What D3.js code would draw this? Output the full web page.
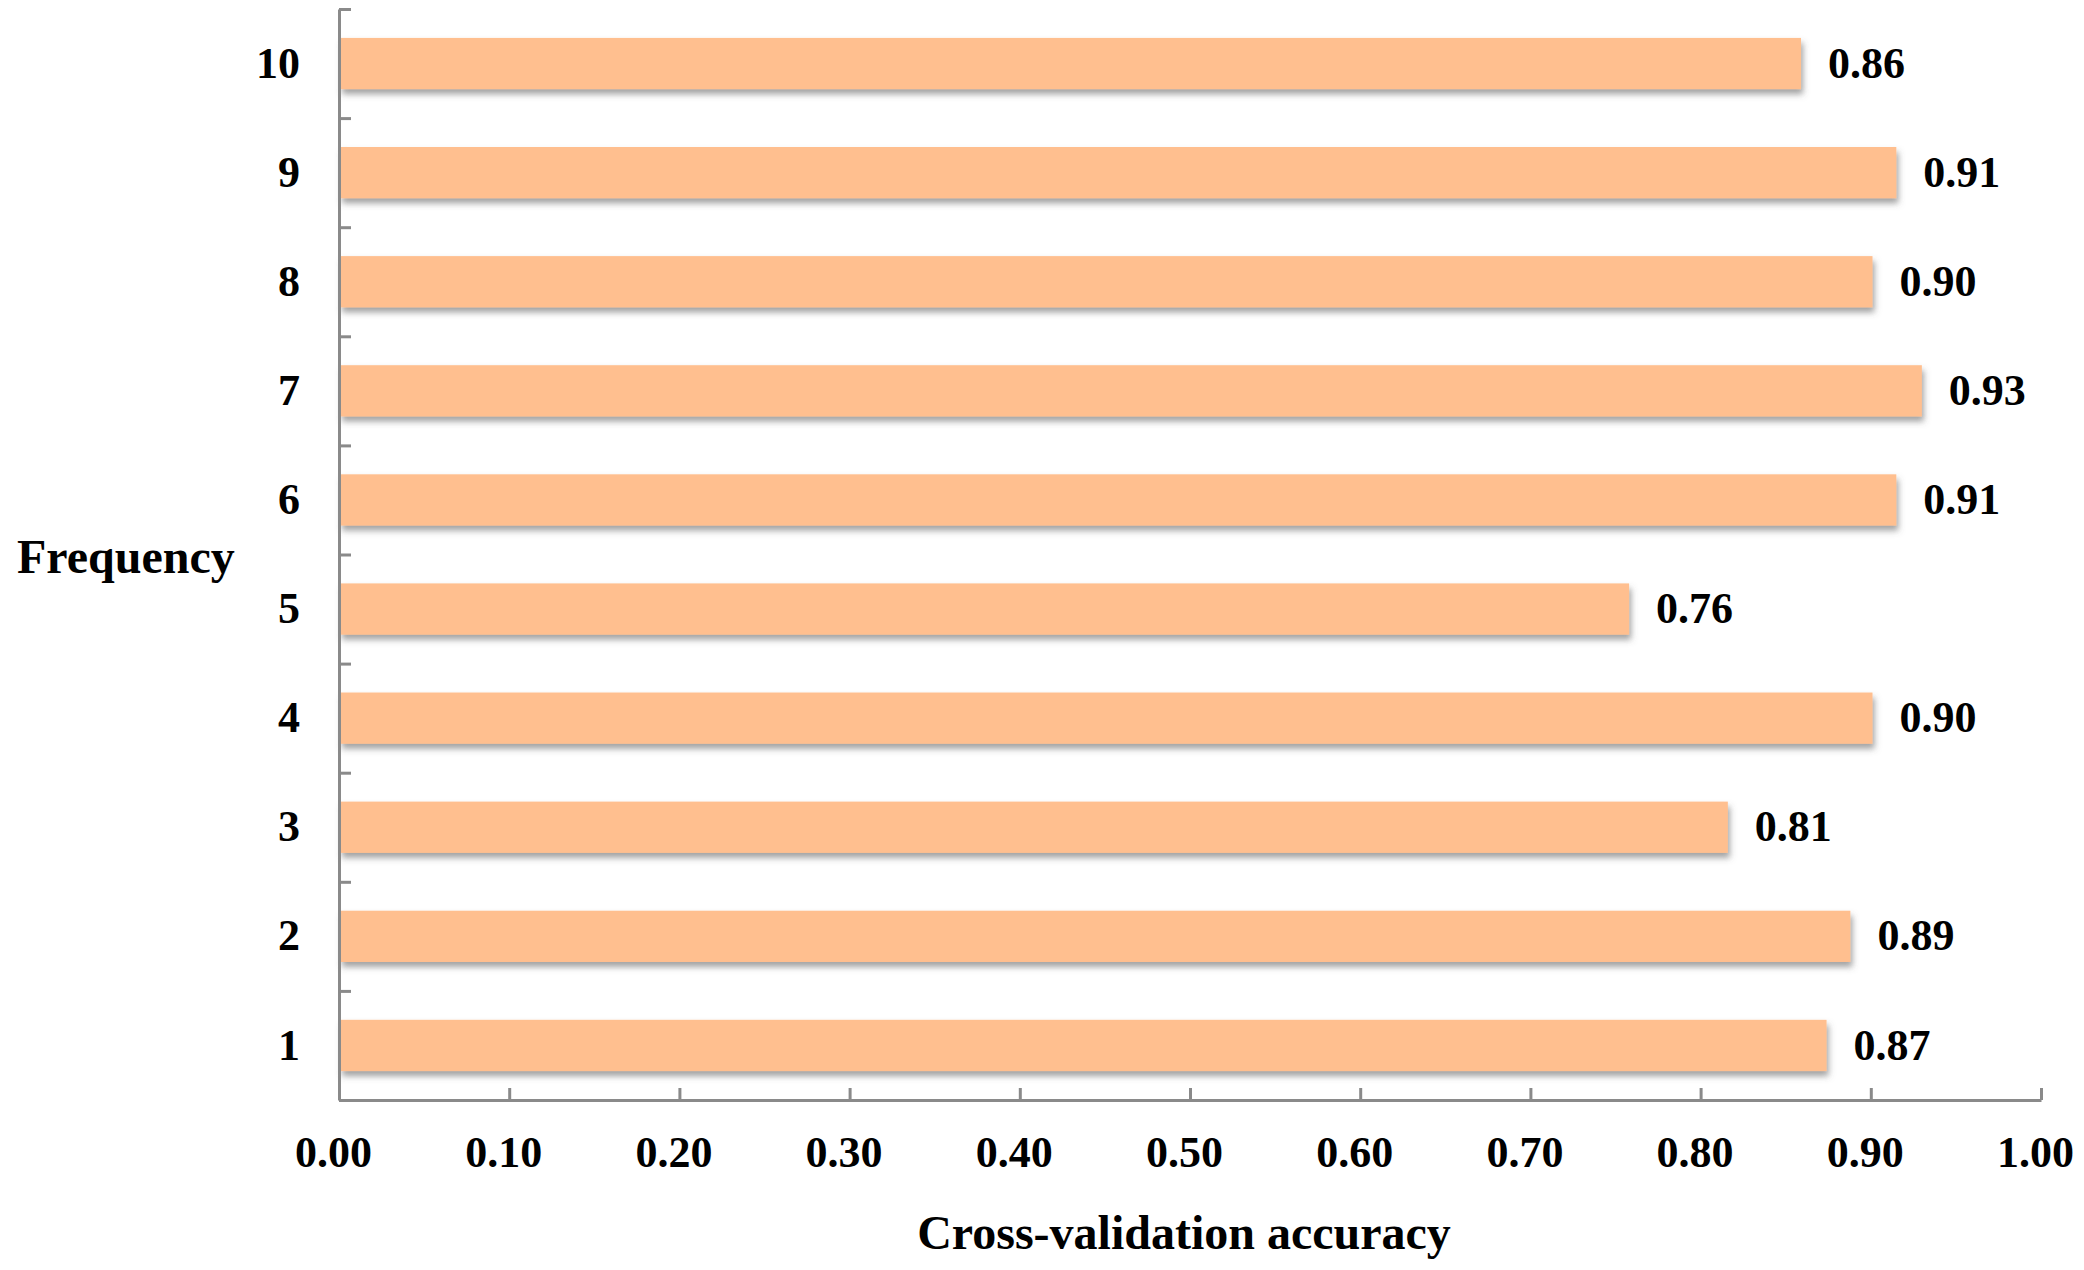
<!DOCTYPE html>
<html>
<head>
<meta charset="utf-8">
<script src="https://cdn.jsdelivr.net/npm/d3@7"></script>
<style>
  html, body { margin: 0; padding: 0; background: #fff; }
  svg { display: block; }
  text { font-family: "Liberation Serif", "Times New Roman", serif; font-weight: bold; fill: #000; }
</style>
</head>
<body>
<svg id="chart" width="2084" height="1270"></svg>
<script>
const categories = ["1", "2", "3", "4", "5", "6", "7", "8", "9", "10"];
const values = [0.874, 0.888, 0.816, 0.901, 0.758, 0.915, 0.930, 0.901, 0.915, 0.859];
const valueLabels = ["0.87", "0.89", "0.81", "0.90", "0.76", "0.91", "0.93", "0.90", "0.91", "0.86"];
const xTicks = [0, 0.1, 0.2, 0.3, 0.4, 0.5, 0.6, 0.7, 0.8, 0.9, 1.0];

(function () {
const svg = d3.select("#chart");
const mLeft = 339, mRight = 2041, mTop = 9, mBottom = 1100;
const axisColor = "#8a8a8a";

const defs = svg.append("defs");
const f = defs.append("filter").attr("id", "shadow")
  .attr("x", "-5%").attr("y", "-30%").attr("width", "110%").attr("height", "170%");
f.append("feDropShadow").attr("dx", 2).attr("dy", 5).attr("stdDeviation", 3)
  .attr("flood-color", "#555").attr("flood-opacity", 0.55);

const x = d3.scaleLinear().domain([0, 1]).range([mLeft, mRight]);
const y = d3.scaleBand().domain(categories.slice().reverse()).range([mTop, mBottom])
  .paddingInner(0.53).paddingOuter(0.265);

const data = categories.map((c, i) => ({ c, v: values[i], label: valueLabels[i] }));

// bars
svg.append("g").selectAll("rect").data(data).join("rect")
  .attr("x", x(0) + 1)
  .attr("y", d => y(d.c))
  .attr("width", d => x(d.v) - x(0) - 1)
  .attr("height", y.bandwidth())
  .attr("fill", "#FFBF8F")
  .attr("filter", "url(#shadow)");

// value labels
svg.append("g").selectAll("text").data(data).join("text")
  .attr("x", d => x(d.v) + 27)
  .attr("y", d => y(d.c) + y.bandwidth() / 2)
  .attr("dy", "0.32em")
  .attr("font-size", 44)
  .text(d => d.label);

// y axis with boundary ticks
const yLin = d3.scaleLinear().domain([0, categories.length]).range([mBottom, mTop]);
const yAx = svg.append("g").attr("transform", `translate(${mLeft},0)`)
  .call(d3.axisRight(yLin).tickValues(d3.range(0, categories.length + 1)).tickSize(12).tickSizeOuter(0).tickFormat(""));
yAx.select(".domain").attr("stroke", axisColor).attr("stroke-width", 3);
yAx.selectAll(".tick line").attr("stroke", axisColor).attr("stroke-width", 3);

// y category labels
svg.append("g").selectAll("text").data(categories).join("text")
  .attr("x", 300)
  .attr("y", d => y(d) + y.bandwidth() / 2)
  .attr("dy", "0.32em")
  .attr("text-anchor", "end")
  .attr("font-size", 44)
  .text(d => d);

// x axis
const xAx = svg.append("g").attr("transform", `translate(0,${mBottom})`)
  .call(d3.axisBottom(x).tickValues(xTicks).tickSize(-12).tickSizeOuter(0).tickFormat(d3.format(".2f")));
xAx.select(".domain").attr("stroke", axisColor).attr("stroke-width", 3);
xAx.selectAll(".tick line").attr("stroke", axisColor).attr("stroke-width", 3);
xAx.selectAll(".tick text")
  .attr("y", 67).attr("dy", 0).attr("dx", -6)
  .attr("font-size", 44)
  .style("font-family", "'Liberation Serif', serif").style("font-weight", "bold").attr("fill", "#000");

// axis titles
svg.append("text").attr("x", 1184).attr("y", 1249).attr("text-anchor", "middle")
  .attr("font-size", 48).text("Cross-validation accuracy");
svg.append("text").attr("x", 17).attr("y", 573).attr("text-anchor", "start")
  .attr("font-size", 48).text("Frequency");
})();
</script>
</body>
</html>
